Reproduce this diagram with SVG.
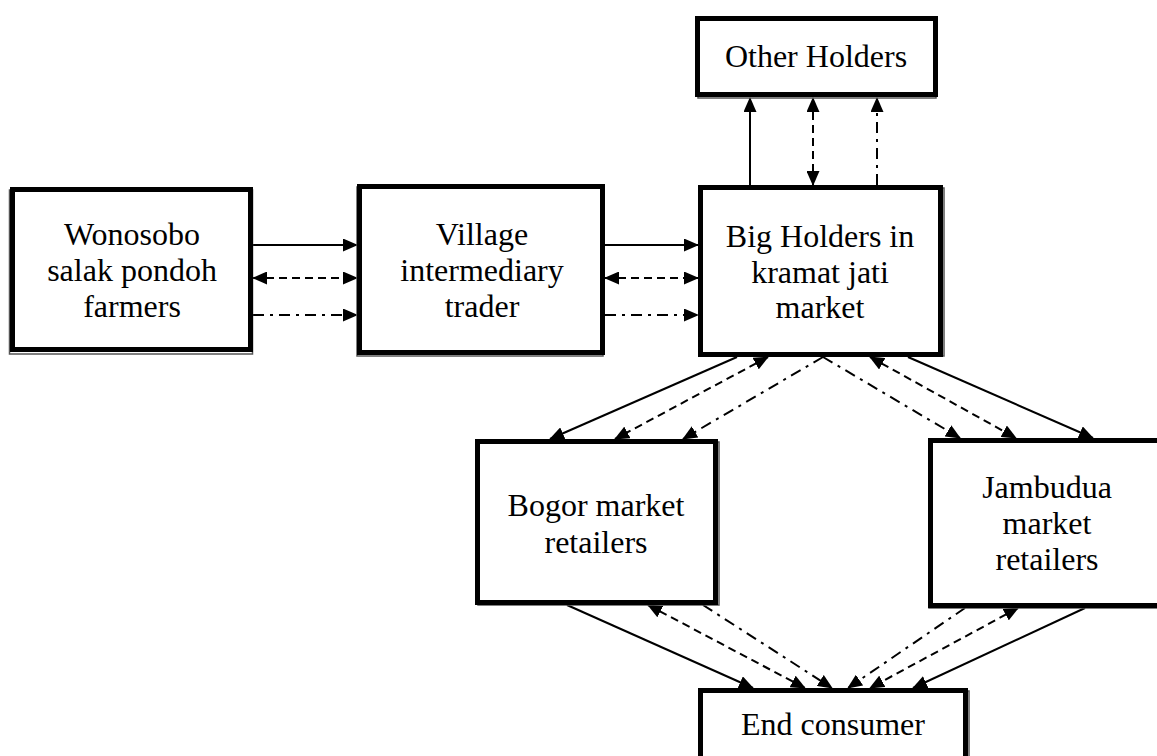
<svg xmlns="http://www.w3.org/2000/svg" width="1157" height="756" viewBox="0 0 1157 756">
<style>
.box{fill:#fff;stroke:#000;stroke-width:5}
.sh{fill:none;stroke:#555;stroke-width:1.5}
.t{font-family:"Liberation Serif","Times New Roman",serif;font-size:32px;fill:#000;text-anchor:middle}
.c{fill:none;stroke:#000;stroke-width:2}
.d{stroke-dasharray:8 5}
.dd{stroke-dasharray:11 6 3 6}
</style>
<defs>
<marker id="a" markerUnits="userSpaceOnUse" markerWidth="15" markerHeight="13" refX="14" refY="6.5" orient="auto-start-reverse" viewBox="0 0 15 13">
<path d="M0,0 L15,6.5 L0,13 z" fill="#000"/>
</marker>
</defs>
<rect width="1157" height="756" fill="#fff"/>
<g id="connectors">
<path class="c" d="M253,245 L357,245" marker-end="url(#a)"/>
<path class="c d" d="M253,278 L357,278" marker-start="url(#a)" marker-end="url(#a)"/>
<path class="c dd" d="M253,315 L357,315" marker-end="url(#a)"/>
<path class="c" d="M605,245 L698,245" marker-end="url(#a)"/>
<path class="c d" d="M605,278 L698,278" marker-start="url(#a)" marker-end="url(#a)"/>
<path class="c dd" d="M605,315 L698,315" marker-end="url(#a)"/>
<path class="c" d="M750,185 L750,98" marker-end="url(#a)"/>
<path class="c d" d="M813,185 L813,98" marker-start="url(#a)" marker-end="url(#a)"/>
<path class="c dd" d="M877,185 L877,98" marker-end="url(#a)"/>
<path class="c" d="M737,357 L550,439" marker-end="url(#a)"/>
<path class="c d" d="M768,357 L615,439" marker-start="url(#a)" marker-end="url(#a)"/>
<path class="c dd" d="M823,357 L683,439" marker-end="url(#a)"/>
<path class="c dd" d="M823,357 L960,438" marker-end="url(#a)"/>
<path class="c d" d="M870,357 L1016,438" marker-start="url(#a)" marker-end="url(#a)"/>
<path class="c" d="M908,357 L1093,438" marker-end="url(#a)"/>
<path class="c" d="M567,605 L753,688" marker-end="url(#a)"/>
<path class="c d" d="M648,605 L805,688" marker-start="url(#a)" marker-end="url(#a)"/>
<path class="c dd" d="M703,605 L832,688" marker-end="url(#a)"/>
<path class="c dd" d="M965,608 L848,688" marker-end="url(#a)"/>
<path class="c d" d="M1018,608 L870,688" marker-start="url(#a)" marker-end="url(#a)"/>
<path class="c" d="M1085,608 L913,688" marker-end="url(#a)"/>
</g>
<g id="wonosobo">
<rect class="sh" x="9.5" y="190" width="243" height="164"/>
<rect class="box" x="12.5" y="189.5" width="238" height="160"/>
<text class="t" x="132" y="245">Wonosobo</text>
<text class="t" x="132" y="281">salak pondoh</text>
<text class="t" x="132" y="317">farmers</text>
</g>
<g id="village">
<rect class="sh" x="357" y="187" width="246" height="169"/>
<rect class="box" x="359.5" y="186.5" width="243" height="166"/>
<text class="t" x="482" y="245">Village</text>
<text class="t" x="482" y="281">intermediary</text>
<text class="t" x="482" y="317">trader</text>
</g>
<g id="bigholders">
<rect class="sh" x="701" y="188" width="243" height="168"/>
<rect class="box" x="700.5" y="187.5" width="240" height="167"/>
<text class="t" x="820" y="247">Big Holders in</text>
<text class="t" x="820" y="283">kramat jati</text>
<text class="t" x="820" y="318">market</text>
</g>
<g id="otherholders">
<rect class="sh" x="698" y="19" width="238" height="79"/>
<rect class="box" x="697.5" y="18.5" width="238" height="76"/>
<text class="t" x="816" y="67">Other Holders</text>
</g>
<g id="bogor">
<rect class="sh" x="478" y="442" width="241" height="163"/>
<rect class="box" x="477.5" y="441.5" width="238" height="161"/>
<text class="t" x="596" y="516">Bogor market</text>
<text class="t" x="596" y="553">retailers</text>
</g>
<g id="jambudua">
<rect class="sh" x="929" y="441" width="240" height="167"/>
<rect class="box" x="930.5" y="440.5" width="240" height="165"/>
<text class="t" x="1047" y="498">Jambudua</text>
<text class="t" x="1047" y="534">market</text>
<text class="t" x="1047" y="570">retailers</text>
</g>
<g id="endconsumer">
<rect class="sh" x="701" y="691" width="268" height="80"/>
<rect class="box" x="700.5" y="690.5" width="265" height="80"/>
<text class="t" x="833" y="735">End consumer</text>
</g>
</svg>
